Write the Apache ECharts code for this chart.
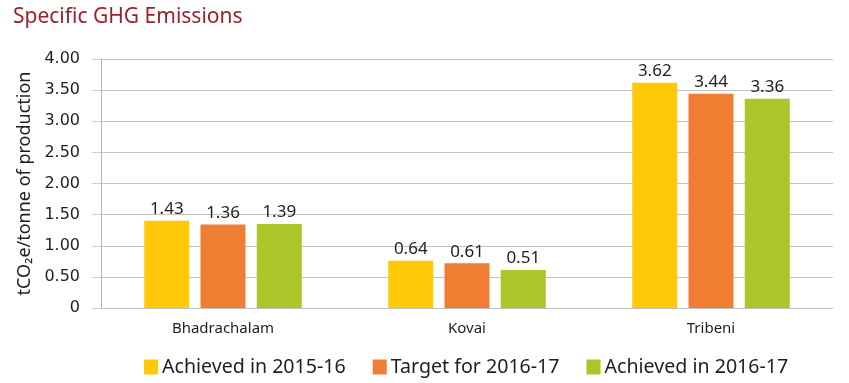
<!DOCTYPE html>
<html>
<head>
<meta charset="utf-8">
<script src="https://cdn.jsdelivr.net/npm/echarts@6/dist/echarts.min.js"></script>
<style>
html,body{margin:0;padding:0;background:#fff;}
#c{width:849px;height:383px;}
</style>
</head>
<body>
<div id="c"></div>
<script>
var categories = ['Bhadrachalam', 'Kovai', 'Tribeni'];
var seriesNames = ['Achieved in 2015-16', 'Target for 2016-17', 'Achieved in 2016-17'];
// bar heights as drawn in the picture
var achieved1516 = [1.40, 0.76, 3.62];
var target1617 = [1.34, 0.72, 3.44];
var achieved1617 = [1.35, 0.61, 3.36];
// value labels as printed above the bars
var labels1516 = ['1.43', '0.64', '3.62'];
var labelsTarget = ['1.36', '0.61', '3.44'];
var labels1617 = ['1.39', '0.51', '3.36'];
var yTicks = ['0', '0.50', '1.00', '1.50', '2.00', '2.50', '3.00', '3.50', '4.00'];

var colors = ['#ffc907', '#ef7d32', '#adc42b'];
var FONT = 'Noto Sans';

function mk(name, data, labs, color) {
  return {
    name: name,
    type: 'bar',
    data: data,
    barWidth: 45,
    barGap: '25%',
    itemStyle: { color: color },
    label: {
      show: true,
      position: 'top',
      distance: 3,
      fontFamily: FONT,
      fontSize: 17,
      color: '#1e1e1e',
      formatter: function (p) { return labs[p.dataIndex]; }
    }
  };
}

var chart = echarts.init(document.getElementById('c'), null, { renderer: 'canvas' });
chart.setOption({
  animation: false,
  title: {
    text: 'Specific GHG Emissions',
    left: 13,
    top: 7,
    padding: 0,
    textStyle: { fontFamily: FONT, fontSize: 21, fontWeight: 'normal', color: '#9e1f2e' }
  },
  grid: { left: 101, right: 16, top: 59, bottom: 75 },
  legend: {
    left: 144,
    top: 357,
    padding: 0,
    icon: 'rect',
    itemWidth: 14,
    itemHeight: 15,
    itemGap: 27,
    textStyle: { fontFamily: FONT, fontSize: 19.6, color: '#1e1e1e', padding: [0, 0, 0, -1] },
    data: seriesNames
  },
  xAxis: {
    type: 'category',
    data: categories,
    axisLine: { show: true, lineStyle: { color: '#c4c4c4' } },
    axisTick: { show: false },
    axisLabel: { fontFamily: FONT, fontSize: 15, color: '#1e1e1e', margin: 13 }
  },
  yAxis: {
    type: 'value',
    min: 0,
    max: 4,
    interval: 0.5,
    name: 'tCO₂e/tonne of production',
    nameLocation: 'middle',
    nameGap: 64,
    nameTextStyle: { fontFamily: FONT, fontSize: 18, color: '#1e1e1e' },
    axisLine: { show: true, lineStyle: { color: '#b4b4b4' } },
    axisTick: { show: true, inside: false, length: 9, lineStyle: { color: '#d0d0d0' } },
    splitLine: { show: true, lineStyle: { color: '#c4c4c4' } },
    axisLabel: {
      fontFamily: 'DejaVu Sans',
      fontSize: 16,
      color: '#1e1e1e',
      margin: 21,
      formatter: function (v) { return yTicks[Math.round(v / 0.5)]; }
    }
  },
  series: [
    mk(seriesNames[0], achieved1516, labels1516, colors[0]),
    mk(seriesNames[1], target1617, labelsTarget, colors[1]),
    mk(seriesNames[2], achieved1617, labels1617, colors[2])
  ]
});
</script>
</body>
</html>
